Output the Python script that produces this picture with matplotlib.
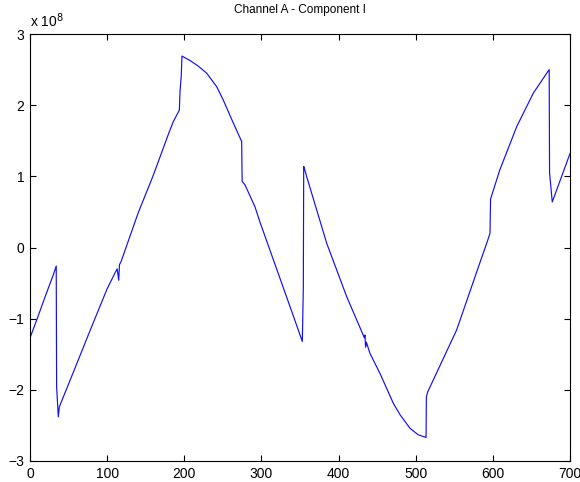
import matplotlib
matplotlib.use("Agg")
import matplotlib.pyplot as plt

# sample index and value (units of 1e8)
x_idx = [0, 10, 20, 30, 34, 34.5, 36.7, 38, 60, 80, 100, 111, 113, 115, 116, 118,
         140, 160, 180, 185.8, 193.6, 194.5, 196, 197, 207, 218, 229, 242, 250.6,
         263.5, 274.4, 275, 278.7, 291.7, 298, 320, 340, 353, 354.3, 354.8, 356,
         358.7, 384.6, 410.5, 433.5, 434.2, 435, 436, 440.8, 453.7, 471, 479.7,
         492.6, 503, 513.4, 513.8, 515.5, 553, 583, 593.3, 596.3, 597, 609, 631,
         652.5, 673, 673.5, 677, 700]
y_val = [-1.27, -0.98, -0.68, -0.39, -0.26, -1.96, -2.38, -2.24, -1.65, -1.11,
         -0.58, -0.34, -0.30, -0.46, -0.24, -0.20, 0.48, 1.02, 1.61, 1.77, 1.93,
         2.20, 2.40, 2.69, 2.63, 2.55, 2.45, 2.26, 2.07, 1.75, 1.49, 0.93, 0.88,
         0.57, 0.36, -0.31, -0.92, -1.32, -0.57, 1.14, 1.10, 0.995, 0.06, -0.69,
         -1.27, -1.23, -1.40, -1.33, -1.49, -1.77, -2.19, -2.35, -2.54, -2.63,
         -2.67, -2.10, -2.03, -1.16, -0.22, 0.10, 0.20, 0.68, 1.09, 1.70, 2.17,
         2.50, 1.05, 0.64, 1.32]

x_ticks = [0, 100, 200, 300, 400, 500, 600, 700]
y_ticks = [-3, -2, -1, 0, 1, 2, 3]
title = "Channel A - Component I"

plt.rcParams['font.family'] = ['Liberation Sans', 'DejaVu Sans']

fig = plt.figure(figsize=(5.8, 4.82), dpi=100)
ax = fig.add_axes([30 / 580, 21 / 482, 540 / 580, 427 / 482])

ax.plot(x_idx, y_val, color="#1010f0", lw=0.85)

ax.set_xlim(0, 700)
ax.set_ylim(-3, 3)
ax.set_xticks(x_ticks)
ax.set_yticks(y_ticks)
ax.tick_params(direction="in", length=4, width=0.8, top=True, right=True,
               labelsize=10, pad=4)
for s in ax.spines.values():
    s.set_linewidth(0.8)

ax.set_title(title, fontsize=8.5, pad=15)
ax.text(0.0, 1.01, r"x 10$^8$", transform=ax.transAxes, fontsize=10,
        ha="left", va="bottom")

fig.savefig("out.png", dpi=100)
